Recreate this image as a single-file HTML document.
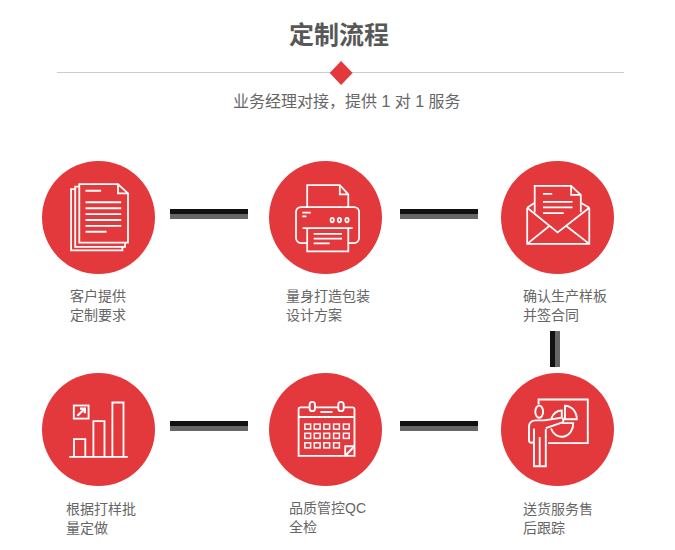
<!DOCTYPE html>
<html lang="zh-CN">
<head>
<meta charset="utf-8">
<title>定制流程</title>
<style>
html,body{margin:0;padding:0;background:#fff;}
body{width:675px;height:550px;position:relative;overflow:hidden;font-family:"Liberation Sans","Noto Sans CJK SC",sans-serif;}
.wrap{position:absolute;left:0;top:0;width:675px;height:550px;background:#fff;overflow:hidden;}
.g{position:absolute;display:block;overflow:visible;}
.t{position:absolute;margin:0;padding:0;color:#666;white-space:nowrap;font-weight:normal;overflow:visible;font-family:"Liberation Sans","Noto Sans CJK SC",sans-serif;}
h2.t{font-size:25px;font-weight:bold;color:#585858;left:289px;top:20px;width:101px;height:30px;line-height:30px;}
p.sub{font-size:16px;left:233px;top:92px;width:229px;height:20px;line-height:20px;}
.rule{position:absolute;left:57px;top:72px;width:567px;height:1px;background:#ccc;}
.dia{position:absolute;left:329px;top:61px;width:24px;height:24px;background:#e4393c;clip-path:polygon(12.1px 0.1px,23.6px 12px,12.1px 23.9px,0.7px 12px);}
.c{position:absolute;width:113px;height:113px;border-radius:50%;background:#e4393c;}
.c svg{position:absolute;left:0;top:0;display:block;}
.h{position:absolute;width:78px;height:10px;background:linear-gradient(#111 0,#111 5px,#666 5px,#666 10px);}
.v{position:absolute;width:10px;height:36px;background:linear-gradient(90deg,#111 0,#111 5px,#666 5px,#666 10px);}
.l{font-size:14px;line-height:19px;height:38px;}
</style>
</head>
<body>
<div class="wrap">

<h2 class="t">定制流程</h2>
<div class="rule"></div><div class="dia"></div>
<p class="t sub">业务经理对接，提供 1 对 1 服务</p>
<div class="c" style="left:42px;top:161px"><svg width="113" height="113" viewBox="42 161 113 113" fill="none" stroke="#fff" stroke-width="1.6" stroke-linejoin="miter"><g stroke-width="1.8">
<path d="M118 184.2H79.3V242.6H128V193.3Z"/>
<path d="M118 184.2V193.3H128"/>
<path d="M79.3 186.6H75.2V246.8H125.1V242.6"/>
<path d="M75.2 189.2H71.1V250.3H122.4V246.8"/>
<path stroke-width="1.9" d="M85.5 190.7H101.1M85.5 202.3H121.2M85.5 208.2H121.2M85.5 214.1H121.2M85.5 220H121.2M85.5 225.9H121.2M85.5 231.8H106.5"/>
</g></svg></div>
<p class="t l" style="left:70px;top:287px">客户提供<br>定制要求</p>
<div class="c" style="left:269px;top:161px"><svg width="113" height="113" viewBox="269 161 113 113" fill="none" stroke="#fff" stroke-width="1.6" stroke-linejoin="miter"><g stroke-width="1.75">
<path d="M307.2 207V185H339.8L348.3 194.4V207"/>
<path d="M339.8 185V194.4H348.3"/>
<path d="M307.2 243.1H301A5 5 0 0 1 296 238.1V212A5 5 0 0 1 301 207H354.1A5 5 0 0 1 359.1 212V238.1A5 5 0 0 1 354.1 243.1H348.3"/>
<path d="M302.6 228H352.7"/>
<path d="M307.2 228V251.3H348.3V228"/>
<path d="M313.7 233.8H342M313.7 238.6H342M313.7 243.4H329.7"/>
<path d="M302.3 212.6H310.8M302.3 216.3H306.4"/>
<ellipse cx="332.2" cy="220.1" rx="1.65" ry="2.2"/><ellipse cx="339.4" cy="220.1" rx="1.65" ry="2.2"/><ellipse cx="347" cy="220.1" rx="1.65" ry="2.2"/>
</g></svg></div>
<p class="t l" style="left:286px;top:287px">量身打造包装<br>设计方案</p>
<div class="c" style="left:501px;top:161px"><svg width="113" height="113" viewBox="501 161 113 113" fill="none" stroke="#fff" stroke-width="1.6" stroke-linejoin="miter"><g stroke-width="1.75">
<path d="M534.7 212.4V185.9H571.1L580.8 194.9V212.2"/>
<path d="M571.1 185.9V194.9H580.8"/>
<path d="M527.2 207.7V243.9H589.3V207.7"/>
<path d="M527.2 207.7L557.6 232.4L589.3 207.7"/>
<path d="M527.2 207.7L534.7 202.8M589.3 207.7L580.8 202.8"/>
<path d="M527.2 243.9L549.3 226M589.3 243.9L566.3 226"/>
<path d="M543 193.9H552.2M543 201.9H572.5M543 207.3H572.5M543 213.1H563.8"/>
</g></svg></div>
<p class="t l" style="left:523px;top:287px">确认生产样板<br>并签合同</p>
<div class="c" style="left:42px;top:373px"><svg width="113" height="113" viewBox="42 373 113 113" fill="none" stroke="#fff" stroke-width="1.6" stroke-linejoin="miter"><g stroke-width="1.85">
<path d="M69.2 456.8H127.8"/>
<path d="M74 456.8V439.1H85.3V456.8"/>
<path d="M93.4 456.8V421.1H104.5V456.8"/>
<path d="M112.4 456.8V402.5H123.5V456.8"/>
<rect x="73.8" y="405.5" width="14.8" height="13.1"/>
<path d="M77.4 415.8L84.5 409M80 408.7H84.9V413.2" stroke-width="2.2"/>
</g></svg></div>
<p class="t l" style="left:66px;top:500px">根据打样批<br>量定做</p>
<div class="c" style="left:269px;top:373px"><svg width="113" height="113" viewBox="269 373 113 113" fill="none" stroke="#fff" stroke-width="1.6" stroke-linejoin="miter"><g stroke-width="1.85">
<path d="M298.6 455.8V409.3A2 2 0 0 1 300.6 407.3H352.5A2 2 0 0 1 354.5 409.3V455.8Z"/>
<path d="M298.6 417H354.5"/>
<path d="M320.4 412H332.5"/>
<rect x="309.6" y="401.9" width="5.4" height="9.3" rx="2.7" fill="#e4393c"/>
<rect x="338.3" y="401.9" width="5.4" height="9.3" rx="2.7" fill="#e4393c"/>
<g stroke-width="1.5">
<rect x="304.8" y="424.1" width="5.8" height="5.1"/><rect x="314.3" y="424.1" width="5.8" height="5.1"/><rect x="323.8" y="424.1" width="5.8" height="5.1"/><rect x="333.6" y="424.1" width="5.8" height="5.1"/><rect x="343.4" y="424.1" width="5.8" height="5.1"/><rect x="304.8" y="433.3" width="5.8" height="5.1"/><rect x="314.3" y="433.3" width="5.8" height="5.1"/><rect x="323.8" y="433.3" width="5.8" height="5.1"/><rect x="333.6" y="433.3" width="5.8" height="5.1"/><rect x="343.4" y="433.3" width="5.8" height="5.1"/><rect x="304.8" y="442.8" width="5.8" height="5.1"/><rect x="314.3" y="442.8" width="5.8" height="5.1"/><rect x="323.8" y="442.8" width="5.8" height="5.1"/><rect x="333.6" y="442.8" width="5.8" height="5.1"/>
</g>
<path d="M345.2 455.8V446.2H354.5" fill="#e4393c"/>
<path d="M346 455L353.7 447" stroke-width="2.2"/>
</g></svg></div>
<p class="t l" style="left:289px;top:499px">品质管控QC<br>全检</p>
<div class="c" style="left:501px;top:373px"><svg width="113" height="113" viewBox="501 373 113 113" fill="none" stroke="#fff" stroke-width="1.6" stroke-linejoin="miter"><g stroke-width="1.9">
<path d="M538.6 404.5V399.5H587.8V443.1H548.2"/>
<ellipse cx="539.2" cy="411.7" rx="3.9" ry="6.1"/>
<path d="M534 442.2V466.3H545.8V429"/>
<path d="M539.7 437V466.3"/>
<path d="M561.4 417.8L544 420.4H536C531.5 420.4 529 423 529 427V440.2A2.5 2.5 0 0 0 534 440.2V428.5"/>
<path d="M545.8 428.2L561.8 422.6A2.5 2.5 0 0 0 561.4 417.8"/>
<path d="M565 405.7V419.2H576.8A12 13.4 0 0 0 565 405.7Z"/>
<path d="M561.8 417V410.5A11.5 13 0 0 0 551.3 418.5"/>
<path d="M561.8 423.1H573.2A11.5 13 0 0 1 551 428.5"/>
</g></svg></div>
<p class="t l" style="left:523px;top:500px">送货服务售<br>后跟踪</p>
<div class="h" style="left:170px;top:209px"></div>
<div class="h" style="left:400px;top:209px"></div>
<div class="h" style="left:170px;top:421px"></div>
<div class="h" style="left:400px;top:421px"></div>
<div class="v" style="left:550px;top:331px"></div>
</div>
</body>
</html>
